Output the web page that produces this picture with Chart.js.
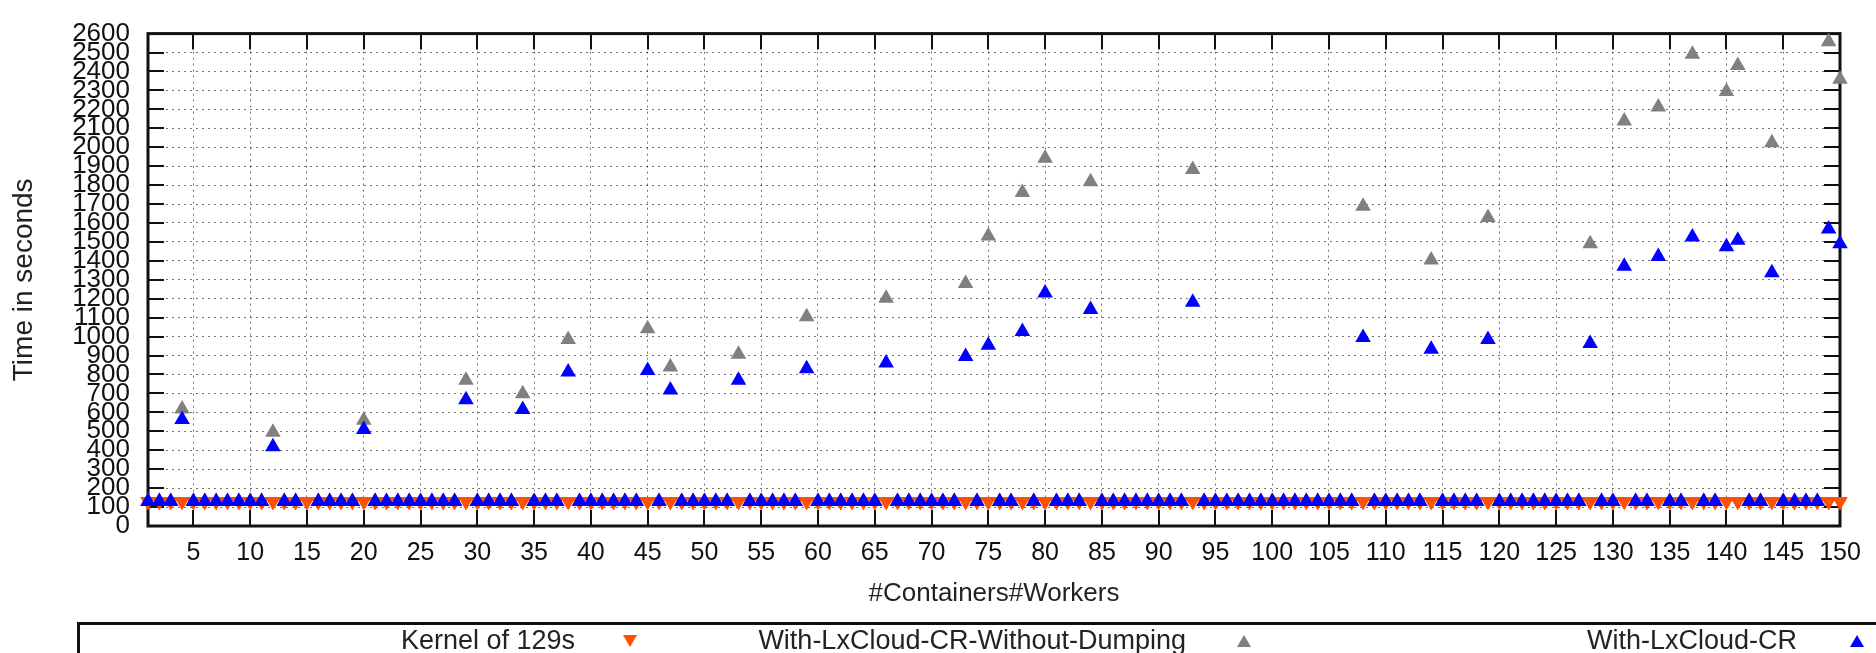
<!DOCTYPE html>
<html lang="en">

<head>
    <meta charset="UTF-8">
    <script src="https://cdn.jsdelivr.net/npm/chart.js"></script>
    <title>Time in seconds</title>
    <style>
        body { margin: 0; background: #fff; }
        .wrap { position: relative; width: 1876px; height: 653px; overflow: hidden; font-family: 'Liberation Sans', Arial, sans-serif; }
        .legend-box { position: absolute; left: 77px; top: 622px; width: 1900px; height: 60px; border: 3px solid #111; box-sizing: border-box; }
        .legend-text { position: absolute; top: 625px; font-size: 27px; line-height: 31px; color: #222; white-space: nowrap; }
        .tri { position: absolute; width: 0; height: 0; border-left: 7px solid transparent; border-right: 7px solid transparent; }
    </style>
</head>

<body>
    <div class="wrap" id="wrap">
        <canvas id="chart-time" width="1876" height="653"></canvas>
        <div class="legend-box"></div>
    </div>
</body>

</html>

<script>
    // #Containers#Workers
    const workers = [
        1, 2, 3, 4, 5, 6, 7, 8, 9, 10,
        11, 12, 13, 14, 15, 16, 17, 18, 19, 20,
        21, 22, 23, 24, 25, 26, 27, 28, 29, 30,
        31, 32, 33, 34, 35, 36, 37, 38, 39, 40,
        41, 42, 43, 44, 45, 46, 47, 48, 49, 50,
        51, 52, 53, 54, 55, 56, 57, 58, 59, 60,
        61, 62, 63, 64, 65, 66, 67, 68, 69, 70,
        71, 72, 73, 74, 75, 76, 77, 78, 79, 80,
        81, 82, 83, 84, 85, 86, 87, 88, 89, 90,
        91, 92, 93, 94, 95, 96, 97, 98, 99, 100,
        101, 102, 103, 104, 105, 106, 107, 108, 109, 110,
        111, 112, 113, 114, 115, 116, 117, 118, 119, 120,
        121, 122, 123, 124, 125, 126, 127, 128, 129, 130,
        131, 132, 133, 134, 135, 136, 137, 138, 139, 140,
        141, 142, 143, 144, 145, 146, 147, 148, 149, 150
    ];

    const kernel = [
        129, 129, 129, 129, 129, 129, 129, 129, 129, 129,
        129, 129, 129, 129, 129, 129, 129, 129, 129, 129,
        129, 129, 129, 129, 129, 129, 129, 129, 129, 129,
        129, 129, 129, 129, 129, 129, 129, 129, 129, 129,
        129, 129, 129, 129, 129, 129, 129, 129, 129, 129,
        129, 129, 129, 129, 129, 129, 129, 129, 129, 129,
        129, 129, 129, 129, 129, 129, 129, 129, 129, 129,
        129, 129, 129, 129, 129, 129, 129, 129, 129, 129,
        129, 129, 129, 129, 129, 129, 129, 129, 129, 129,
        129, 129, 129, 129, 129, 129, 129, 129, 129, 129,
        129, 129, 129, 129, 129, 129, 129, 129, 129, 129,
        129, 129, 129, 129, 129, 129, 129, 129, 129, 129,
        129, 129, 129, 129, 129, 129, 129, 129, 129, 129,
        129, 129, 129, 129, 129, 129, 129, 129, 129, 129,
        129, 129, 129, 129, 129, 129, 129, 129, 129, 129
    ];

    const withoutDumping = [
        129, 129, 129, 618, 129, 129, 129, 129, 129, 129,
        129, 495, 129, 129, null, 129, 129, 129, 129, 558,
        129, 129, 129, 129, 129, 129, 129, 129, 770, 129,
        129, 129, 129, 698, 129, 129, 129, 985, 129, 129,
        129, 129, 129, 129, 1041, 129, 839, 129, 129, 129,
        129, 129, 907, 129, 129, 129, 129, 129, 1105, 129,
        129, 129, 129, 129, 129, 1203, 129, 129, 129, 129,
        129, 129, 1280, 129, 1531, 129, 129, 1761, 129, 1942,
        129, 129, 129, 1818, 129, 129, 129, 129, 129, 129,
        129, 129, 1883, 129, 129, 129, 129, 129, 129, 129,
        129, 129, 129, 129, 129, 129, 129, 1688, 129, 129,
        129, 129, 129, 1405, 129, 129, 129, 129, 1629, 129,
        129, 129, 129, 129, 129, 129, 129, 1491, 129, 129,
        2139, 129, 129, 2213, 129, 129, 2491, 129, 129, 2294,
        2431, 129, 129, 2024, 129, 129, 129, 129, 2557, 2359
    ];

    const lxcloudCR = [
        129, 129, 129, 563, 129, 129, 129, 129, 129, 129,
        129, 418, 129, 129, null, 129, 129, 129, 129, 509,
        129, 129, 129, 129, 129, 129, 129, 129, 667, 129,
        129, 129, 129, 615, 129, 129, 129, 813, 129, 129,
        129, 129, 129, 129, 821, 129, 718, 129, 129, 129,
        129, 129, 770, 129, 129, 129, 129, 129, 830, 129,
        129, 129, 129, 129, 129, 861, 129, 129, 129, 129,
        129, 129, 895, 129, 954, 129, 129, 1027, 129, 1230,
        129, 129, 129, 1143, 129, 129, 129, 129, 129, 129,
        129, 129, 1182, 129, 129, 129, 129, 129, 129, 129,
        129, 129, 129, 129, 129, 129, 129, 995, 129, 129,
        129, 129, 129, 933, 129, 129, 129, 129, 985, 129,
        129, 129, 129, 129, 129, 129, 129, 964, 129, 129,
        1371, 129, 129, 1423, 129, 129, 1526, 129, 129, 1474,
        1509, 129, 129, 1337, 129, 129, 129, 129, 1568, 1491
    ];

    const xTicks = [5, 10, 15, 20, 25, 30, 35, 40, 45, 50, 55, 60, 65, 70, 75, 80, 85, 90, 95, 100,
        105, 110, 115, 120, 125, 130, 135, 140, 145, 150];

    const seriesNames = ['Kernel of 129s', 'With-LxCloud-CR-Without-Dumping', 'With-LxCloud-CR'];

    // legend layout (text right edge, marker centre)
    const legendTextEnd = [575, 1186, 1797];
    const legendMarkX = [630, 1244, 1857];
    const colors = ['#ff4f00', '#808080', '#0000ff'];

    const pts = (ys) => workers.map((x, i) => ({ x: x, y: ys[i] }));

    const FONT = "'Liberation Sans', Arial, sans-serif";

    // border frame + inward tick marks like the original plot
    const frame = {
        id: 'frame',
        beforeDatasetsDraw(chart) {
            const { ctx, chartArea: a, scales } = chart;
            ctx.save();
            ctx.strokeStyle = '#111';
            ctx.lineWidth = 2;
            ctx.beginPath();
            scales.y.ticks.forEach(t => {
                const py = Math.round(scales.y.getPixelForValue(t.value));
                ctx.moveTo(a.left, py); ctx.lineTo(a.left + 16, py);
                ctx.moveTo(a.right, py); ctx.lineTo(a.right - 16, py);
            });
            scales.x.ticks.forEach(t => {
                const px = Math.round(scales.x.getPixelForValue(t.value));
                ctx.moveTo(px, a.bottom); ctx.lineTo(px, a.bottom - 16);
                ctx.moveTo(px, a.top); ctx.lineTo(px, a.top + 16);
            });
            ctx.stroke();
            ctx.lineWidth = 3;
            ctx.strokeRect(a.left, a.top, a.right - a.left, a.bottom - a.top);
            ctx.restore();
        }
    };

    const ctxTime = document.getElementById('chart-time');

    new Chart(ctxTime, {
        type: 'scatter',
        data: {
            datasets: [{
                label: seriesNames[0],
                data: pts(kernel),
                backgroundColor: colors[0],
                borderColor: colors[0],
                borderWidth: 0,
                pointStyle: 'triangle',
                rotation: 180,
                pointRadius: 9,
                order: 3,
                clip: false
            },
            {
                label: seriesNames[1],
                data: pts(withoutDumping),
                backgroundColor: colors[1],
                borderColor: colors[1],
                borderWidth: 0,
                pointStyle: 'triangle',
                pointRadius: 9,
                order: 2,
                clip: false
            },
            {
                label: seriesNames[2],
                data: pts(lxcloudCR),
                backgroundColor: colors[2],
                borderColor: colors[2],
                borderWidth: 0,
                pointStyle: 'triangle',
                pointRadius: 9,
                order: 1,
                clip: false
            }
            ]
        },
        options: {
            responsive: false,
            animation: false,
            devicePixelRatio: 1,
            layout: {
                padding: { top: 22, right: 36, bottom: 44, left: 0 }
            },
            plugins: {
                legend: { display: false },
                tooltip: { enabled: false }
            },
            scales: {
                x: {
                    type: 'linear',
                    min: 1,
                    max: 150,
                    afterBuildTicks: s => { s.ticks = xTicks.map(v => ({ value: v })); },
                    afterFit: s => { s.height = 83; },
                    grid: { color: 'rgba(0,0,0,0.55)', lineWidth: 1, drawTicks: false },
                    border: { display: false, dash: [2, 4] },
                    ticks: {
                        autoSkip: false,
                        maxRotation: 0,
                        padding: 12,
                        color: '#111',
                        font: { family: FONT, size: 25 },
                        callback: v => String(v)
                    },
                    title: {
                        display: true,
                        text: '#Containers#Workers',
                        color: '#222',
                        font: { family: FONT, size: 26 },
                        padding: { top: 0, bottom: 0 }
                    }
                },
                y: {
                    min: 0,
                    max: 2600,
                    afterFit: s => { s.width = 148; },
                    grid: { color: 'rgba(0,0,0,0.55)', lineWidth: 1, drawTicks: false },
                    border: { display: false, dash: [2, 4] },
                    ticks: {
                        stepSize: 100,
                        autoSkip: false,
                        padding: 18,
                        color: '#111',
                        font: { family: FONT, size: 26 },
                        callback: v => String(v)
                    },
                    title: {
                        display: true,
                        text: 'Time in seconds',
                        color: '#222',
                        font: { family: FONT, size: 28 },
                        padding: { top: 7, bottom: 0 }
                    }
                }
            }
        },
        plugins: [frame]
    });

    // legend row in the box under the plot
    const wrap = document.getElementById('wrap');
    seriesNames.forEach((name, i) => {
        const t = document.createElement('div');
        t.className = 'legend-text';
        t.style.right = (1876 - legendTextEnd[i]) + 'px';
        t.textContent = name;
        wrap.appendChild(t);

        const m = document.createElement('div');
        m.className = 'tri';
        m.style.left = (legendMarkX[i] - 7) + 'px';
        m.style.top = '635px';
        if (i === 0) m.style.borderTop = '12px solid ' + colors[i];
        else m.style.borderBottom = '12px solid ' + colors[i];
        wrap.appendChild(m);
    });
</script>
